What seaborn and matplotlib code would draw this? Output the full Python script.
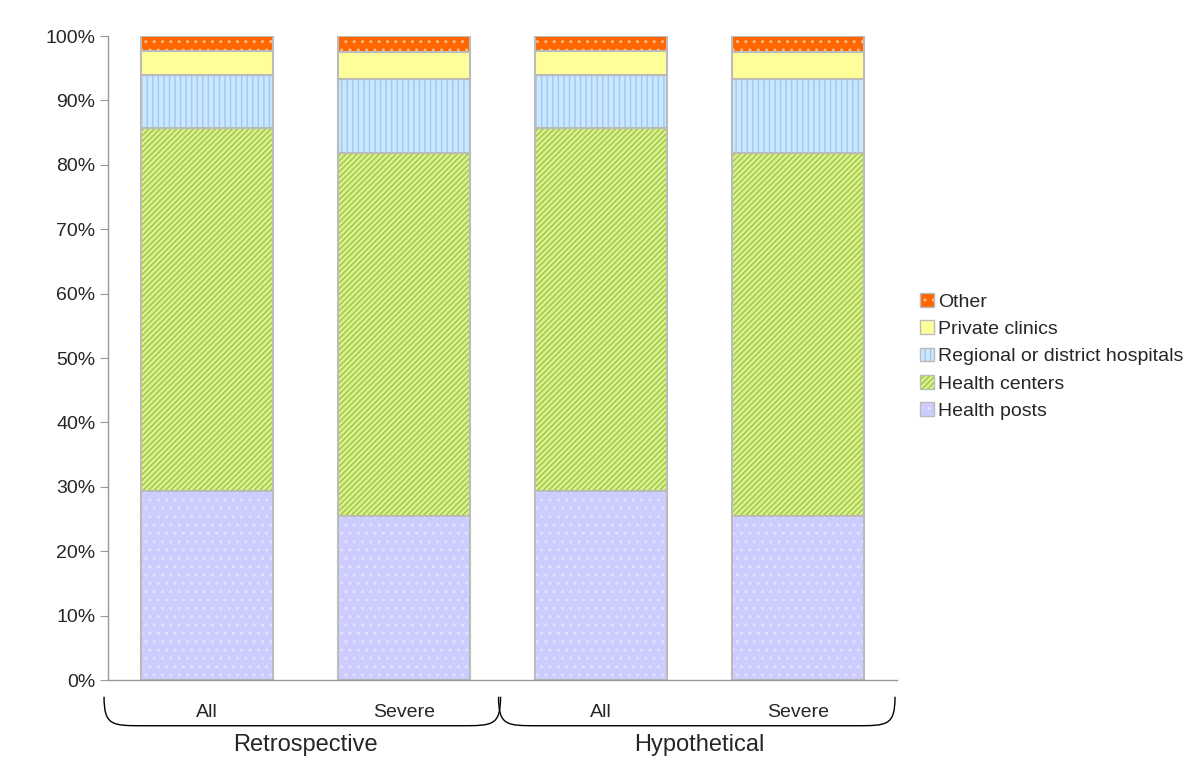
import numpy as np
import pandas as pd
import matplotlib
matplotlib.use("Agg")
import matplotlib.pyplot as plt
import seaborn as sns
from matplotlib.path import Path
from matplotlib.patches import PathPatch, Patch
import matplotlib.transforms as mtransforms

# data (percent of respondents)
bar_labels = ["All", "Severe", "All", "Severe"]
groups = ["Retrospective", "Hypothetical"]
health_posts = [29.3, 25.5, 29.3, 25.5]
health_centers = [56.4, 56.3, 56.4, 56.3]
regional_hospitals = [8.2, 11.5, 8.2, 11.5]
private_clinics = [3.8, 4.2, 3.8, 4.2]
other = [2.3, 2.5, 2.3, 2.5]

series_names = ["Health posts", "Health centers", "Regional or district hospitals",
                "Private clinics", "Other"]
series_values = [health_posts, health_centers, regional_hospitals, private_clinics, other]

# styles: face colour, hatch colour, hatch
styles = {
    "Health posts": ("#ccccff", "#e2e2ff", ".."),
    "Health centers": ("#ddee99", "#99cc33", "//////"),
    "Regional or district hospitals": ("#cce6ff", "#99ccee", "|||"),
    "Private clinics": ("#ffff99", "#ffff99", ""),
    "Other": ("#ff6600", "#ffbb88", ".."),
}
edge_grey = "#bbbbbb"

sns.set_style("white")
plt.rcParams["font.family"] = ["Liberation Sans", "DejaVu Sans"]
plt.rcParams["hatch.linewidth"] = 1.0

fig = plt.figure(figsize=(12, 7.57), dpi=100)
ax = fig.add_axes([0.09, 0.1017, 0.6575, 0.8507])

df = pd.DataFrame({"bar": [f"{g} {b}" for g, b in zip(np.repeat(groups, 2), bar_labels)]})
bottom = np.zeros(len(bar_labels))
for name, vals in zip(series_names, series_values):
    face, hcol, hatch = styles[name]
    df["value"] = vals
    # hatched fill, then grey outline on top
    sns.barplot(data=df, x="bar", y="value", ax=ax, color=face, saturation=1,
                width=0.67, bottom=bottom, hatch=hatch, edgecolor=hcol, linewidth=0)
    sns.barplot(data=df, x="bar", y="value", ax=ax, color=edge_grey, fill=False,
                saturation=1, width=0.67, bottom=bottom, linewidth=1.5)
    bottom = bottom + np.array(vals)

ax.set_ylim(0, 100)
ax.set_xlim(-0.5, 3.5)
ax.set_xlabel("")
ax.set_ylabel("")
ax.set_yticks(np.arange(0, 101, 10))
ax.set_yticklabels([f"{v}%" for v in range(0, 101, 10)], fontsize=14)
ax.set_xticks(range(4))
ax.set_xticklabels(bar_labels, fontsize=14)
ax.set_xticks(np.arange(-0.5, 3.6, 1), minor=True)
ax.tick_params(axis="x", which="major", length=0, pad=17)
ax.tick_params(axis="x", which="minor", length=6, color="#999999", direction="out")
ax.tick_params(axis="y", length=6, color="#999999", direction="out", left=True, pad=3)
for s in ["top", "right"]:
    ax.spines[s].set_visible(False)
for s in ["left", "bottom"]:
    ax.spines[s].set_color("#999999")
    ax.spines[s].set_linewidth(1)

# group braces under the category labels
trans = mtransforms.blended_transform_factory(ax.transData, ax.transAxes)
y_top, y_bot = -0.026, -0.071
for i, g in enumerate(groups):
    x0, x1 = 2 * i - 0.52, 2 * i + 1.49
    verts = [(x0, y_top), (x0, y_bot), (x0 + 0.04, y_bot), (x0 + 0.2, y_bot),
             (x1 - 0.2, y_bot),
             (x1 - 0.04, y_bot), (x1, y_bot), (x1, y_top)]
    codes = [Path.MOVETO, Path.CURVE4, Path.CURVE4, Path.CURVE4, Path.LINETO,
             Path.CURVE4, Path.CURVE4, Path.CURVE4]
    ax.add_patch(PathPatch(Path(verts, codes), transform=trans, fill=False,
                           edgecolor="black", linewidth=1, clip_on=False))
    ax.text(2 * i + 0.5, -0.101, g, transform=trans, ha="center", va="center", fontsize=17)

# legend (reverse order, as in the reference)
handles = []
for name in series_names[::-1]:
    face, hcol, hatch = styles[name]
    handles.append((Patch(facecolor=face, edgecolor=hcol, hatch=hatch, linewidth=0),
                    Patch(facecolor="none", edgecolor=edge_grey, linewidth=1)))
fig.legend(handles, series_names[::-1], loc="center left", bbox_to_anchor=(0.752, 0.529),
           frameon=False, fontsize=14, handlelength=0.7, handleheight=0.7,
           handletextpad=0.25, labelspacing=0.5)

fig.savefig("out.png", dpi=100)
